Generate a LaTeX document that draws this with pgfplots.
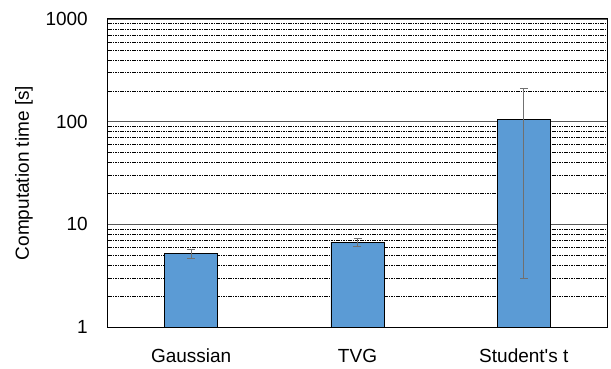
\documentclass[border=0pt]{standalone}
\usepackage{pgfplots}
\pgfplotsset{compat=1.18}
\usepackage{fontspec}
\setmainfont{Liberation Sans}
\definecolor{barblue}{HTML}{5B9BD5}
\definecolor{errgray}{HTML}{707070}
\begin{document}
\begin{tikzpicture}
\begin{axis}[
  name=ax,
  scale only axis,
  width=499pt, height=308pt,
  ymode=log,
  ymin=1, ymax=1000,
  xmin=-0.5, xmax=2.5,
  xtick={0,1,2},
  xticklabels={Gaussian,TVG,Student\textquotesingle s t},
  ytick={1,10,100,1000},
  yticklabels={1,10,100,1000},
  minor ytick={2,3,4,5,6,7,8,9,20,30,40,50,60,70,80,90,200,300,400,500,600,700,800,900},
  major tick length=0pt, minor tick length=0pt,
  ymajorgrids, yminorgrids,
  major grid style={black!65, line width=0.8pt},
  minor grid style={black, line width=0.5pt, dash pattern=on 1.6pt off 0.8pt},
  axis line style={black, line width=1pt},
  tick label style={font=\fontsize{19}{22}\selectfont, inner sep=0pt},
  /pgf/number format/assume math mode=true,
  xticklabel style={anchor=base, yshift=-35.5pt},
  yticklabel style={anchor=east, xshift=-20pt},
  ylabel={Computation time [s]},
  ylabel style={font=\fontsize{19}{22}\selectfont, at={(axis description cs:0,0.5)}, anchor=center, yshift=84pt},
  ybar, bar width=53pt,
]
\addplot[fill=barblue, draw=black, line width=0.8pt,
  error bars/.cd, y dir=both, y explicit,
  error bar style={errgray, line width=1pt},
  error mark options={errgray, rotate=90, mark size=4pt, line width=1pt}]
  coordinates {
    (0,5.2) +- (0,0.5)
    (1,6.7) +- (0,0.55)
    (2,106) +- (0,103)
  };
\end{axis}
\path (ax.south west) ++(-108pt,-41pt) coordinate (bl);
\path (ax.north east) ++(4pt,19pt) coordinate (tr);
\path (bl) rectangle (tr);
\end{tikzpicture}
\end{document}
